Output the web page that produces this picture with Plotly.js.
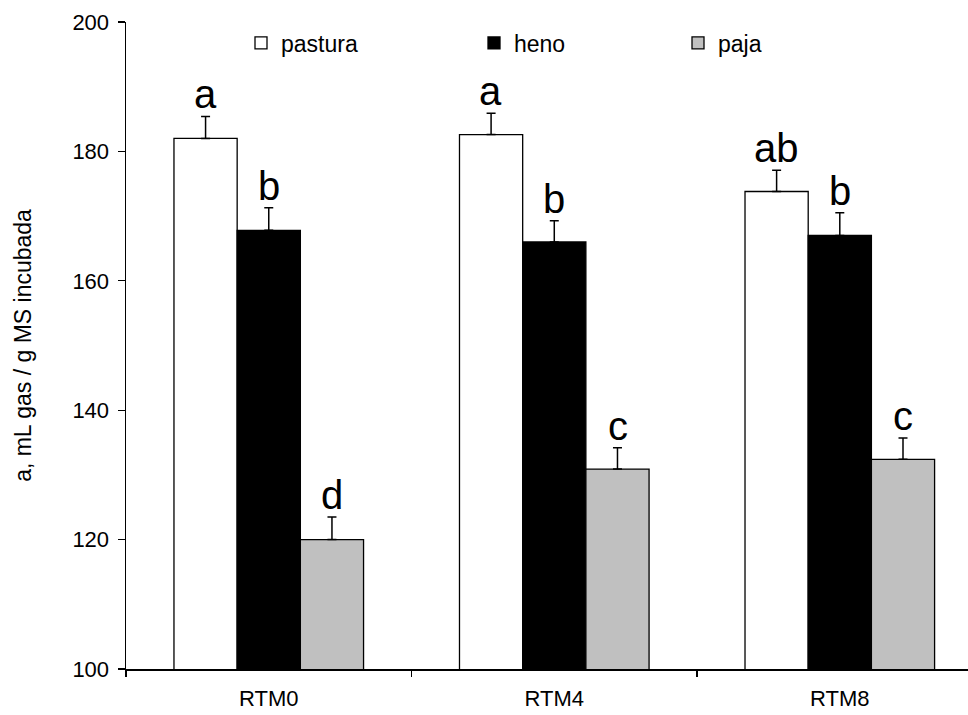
<!DOCTYPE html>
<html>
<head>
<meta charset="utf-8">
<script src="https://cdn.plot.ly/plotly-3.0.1.min.js"></script>
<style>html,body{margin:0;padding:0;background:#fff;}#chart{width:968px;height:715px;}</style>
</head>
<body>
<div id="chart"></div>
<script>
const categories = ["RTM0", "RTM4", "RTM8"];
const pastura = [182.0, 182.6, 173.8];
const pasturaErr = [3.4, 3.3, 3.3];
const heno = [167.8, 166.0, 167.0];
const henoErr = [3.5, 3.3, 3.5];
const paja = [120.0, 130.9, 132.4];
const pajaErr = [3.5, 3.3, 3.3];
const pasturaLetters = ["a", "a", "ab"];
const henoLetters = ["b", "b", "b"];
const pajaLetters = ["d", "c", "c"];
const yTicks = [100, 120, 140, 160, 180, 200];

const FONT = "Liberation Sans, Arial, sans-serif";

function barTrace(name, y, err, fill, legendId) {
  return {
    type: "bar", name: name, x: categories, y: y,
    marker: {color: fill, line: {color: "#000", width: 1.3}},
    error_y: {type: "data", array: err, arrayminus: err.map(() => 0), symmetric: false,
              color: "#000", thickness: 1.5, width: 4.5},
    legend: legendId
  };
}

const data = [
  barTrace("pastura", pastura, pasturaErr, "#ffffff", "legend"),
  barTrace("heno", heno, henoErr, "#000000", "legend2"),
  barTrace("paja", paja, pajaErr, "#c0c0c0", "legend3")
];

const annotations = [];
const groups = [[pastura, pasturaErr, pasturaLetters, 0], [heno, henoErr, henoLetters, 1], [paja, pajaErr, pajaLetters, 2]];
groups.forEach(([vals, errs, letters, k]) => {
  vals.forEach((v, i) => {
    annotations.push({
      x: categories[i], y: v + errs[i], xref: "x", yref: "y",
      text: letters[i], showarrow: false, yanchor: "bottom",
      xshift: (k - 1) * 63.3, yshift: -2,
      font: {family: FONT, size: 40, color: "#000"}
    });
  });
});

const legendBase = {orientation: "h", yanchor: "middle", xanchor: "left", y: 1.0 - (43 - 22) / 647,
  font: {family: FONT, size: 23, color: "#000"}, bgcolor: "rgba(0,0,0,0)", itemwidth: 30};

const layout = {
  width: 968, height: 715,
  margin: {l: 126, r: 0, t: 22, b: 46},
  paper_bgcolor: "#fff", plot_bgcolor: "#fff",
  barmode: "group", bargap: 0.336, bargroupgap: 0,
  font: {family: FONT, color: "#000"},
  xaxis: {
    type: "category", range: [-0.5, 2.449], showline: true, linecolor: "#000", linewidth: 1.5,
    ticks: "outside", tickson: "boundaries", ticklen: 6, tickwidth: 1.3, tickcolor: "#000",
    showgrid: false, zeroline: false, ticklabelstandoff: 9,
    tickfont: {family: FONT, size: 22, color: "#000"}
  },
  yaxis: {
    range: [100, 200], tickvals: yTicks, ticktext: yTicks.map(String),
    showline: true, linecolor: "#000", linewidth: 1.5,
    ticks: "outside", ticklen: 7, tickwidth: 1.3, tickcolor: "#000",
    showgrid: false, zeroline: false, ticklabelstandoff: 4,
    tickfont: {family: FONT, size: 22, color: "#000"},
    title: {text: "a, mL gas / g MS incubada", font: {family: FONT, size: 23, color: "#000"}, standoff: 34}
  },
  showlegend: true,
  legend: Object.assign({}, legendBase, {x: (241 - 126) / 842}),
  legend2: Object.assign({}, legendBase, {x: (474 - 126) / 842}),
  legend3: Object.assign({}, legendBase, {x: (678 - 126) / 842}),
  annotations: annotations
};

Plotly.newPlot("chart", data, layout, {displayModeBar: false, staticPlot: true});
</script>
</body>
</html>
